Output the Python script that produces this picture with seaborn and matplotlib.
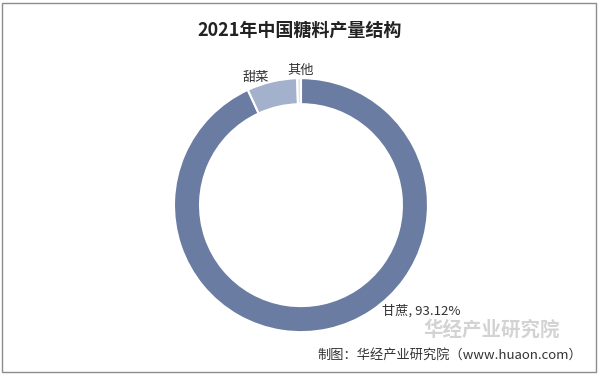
import seaborn as sns
import matplotlib.pyplot as plt
from matplotlib.patches import Rectangle

sns.set_theme(style="white")
plt.rcParams['font.family'] = ['Noto Sans CJK SC', 'DejaVu Sans']

crops = ["甘蔗", "甜菜", "其他"]
shares = [93.12, 6.40, 0.48]
colors = ["#6a7ca1", "#a4b1cc", "#dfe4ee"]

fig = plt.figure(figsize=(6, 3.77), dpi=100)
ax = fig.add_axes([0.29, 0.119, 0.4233, 0.6737])

ax.pie(shares, colors=colors, startangle=90, counterclock=False, radius=1,
       wedgeprops=dict(width=0.205, edgecolor="white", linewidth=1.5))
ax.set_xlim(-1, 1)
ax.set_ylim(-1, 1)
ax.set_aspect("equal")
ax.axis("off")

# labels
ax.text(-0.36, 1.01, crops[1], fontsize=9.5, ha="center", va="center", color="#333333", clip_on=False)
ax.text(0.0, 1.06, crops[2], fontsize=9.5, ha="center", va="center", color="#333333", clip_on=False)
ax.text(0.95, -0.83, f"{crops[0]}, {shares[0]:.2f}%", fontsize=9.5, ha="center", va="center",
        color="#333333", clip_on=False)

fig.text(0.5, 0.92, "2021年中国糖料产量结构", fontsize=13, fontweight="bold",
         ha="center", va="center", color="#222222")

# watermark
fig.text(0.82, 0.125, "华经产业研究院", fontsize=14, fontweight="bold",
         ha="center", va="center", color="#c8c8c8", alpha=0.8)
fig.text(0.97, 0.058, "制图：华经产业研究院（www.huaon.com）", fontsize=9.5,
         ha="right", va="center", color="#333333")

fig.patches.append(Rectangle((0.004, 0.012), 0.99, 0.98, transform=fig.transFigure,
                             fill=False, edgecolor="#8c8c8c", linewidth=1))

fig.savefig("out.png", dpi=100, facecolor="white")
